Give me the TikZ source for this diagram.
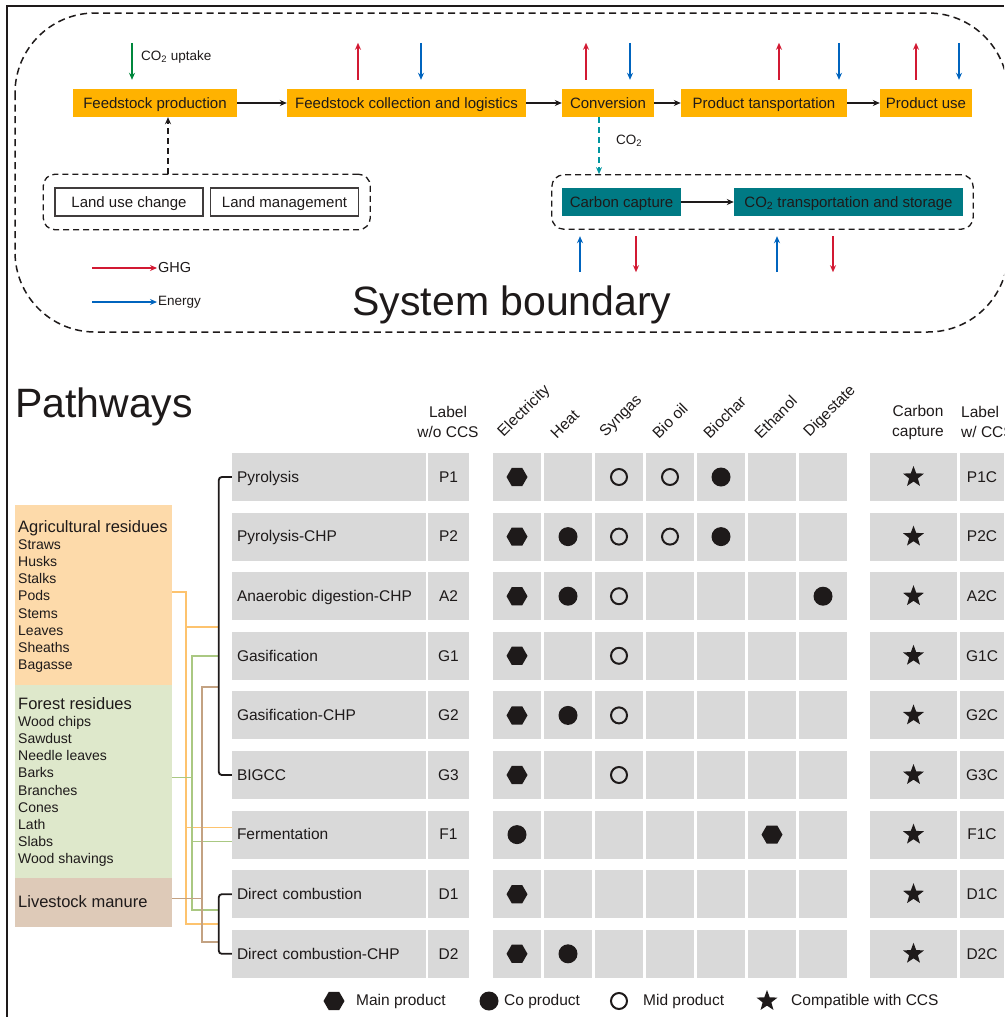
\documentclass[tikz,border=0pt]{standalone}
\usepackage{fontspec}
\setmainfont{Liberation Sans}
\usetikzlibrary{positioning,arrows.meta,shapes.geometric,fit}

\definecolor{procorange}{RGB}{255,178,0}
\definecolor{ccsteal}{RGB}{0,122,132}
\definecolor{ghgred}{RGB}{210,25,50}
\definecolor{energyblue}{RGB}{0,100,190}
\definecolor{uptakegreen}{RGB}{0,135,60}
\definecolor{co2teal}{RGB}{0,150,160}
\definecolor{cellgray}{RGB}{217,217,217}
\definecolor{agrifill}{RGB}{253,218,170}
\definecolor{forestfill}{RGB}{222,232,203}
\definecolor{manurefill}{RGB}{222,202,184}
\definecolor{agriline}{RGB}{253,195,110}
\definecolor{forestline}{RGB}{170,200,130}
\definecolor{manureline}{RGB}{195,162,130}
\definecolor{inkgray}{RGB}{30,26,26}

\begin{document}
\begin{tikzpicture}[x=1pt, y=-1pt,
        every node/.style={text=inkgray},
        proc/.style={fill=procorange, minimum height=28pt, inner sep=0pt, text height=10.7pt, text depth=0.5pt, font=\fontsize{15}{17}\selectfont},
        capbox/.style={fill=ccsteal, minimum height=28pt, inner sep=0pt, text height=10.7pt, text depth=0.5pt, font=\fontsize{15}{17}\selectfont},
        landbox/.style={draw=inkgray!85, line width=1.6pt, fill=white, minimum width=148pt, minimum height=28pt, inner sep=0pt, text height=10.7pt, text depth=0.5pt, font=\fontsize{15}{17}\selectfont},
        grp/.style={draw=inkgray, line width=1.3pt, dash pattern=on 6pt off 4pt, rounded corners=12pt, inner xsep=10pt, inner ysep=13pt},
        flow/.style={draw=inkgray, line width=1.2pt, -{Stealth[length=7pt,width=6pt]}},
        dashflow/.style={flow, dash pattern=on 6pt off 4pt},
        co2flow/.style={flow, draw=co2teal, dash pattern=on 6pt off 4pt},
        ghg/.style={draw=ghgred, line width=1.6pt, -{Stealth[length=7pt,width=6pt]}},
        energy/.style={ghg, draw=energyblue},
        uptake/.style={ghg, draw=uptakegreen},
        smalltxt/.style={inner sep=1pt, font=\fontsize{13.5}{16}\selectfont},
        cellbase/.style={fill=cellgray, minimum height=48pt, inner sep=0pt, text height=11pt, text depth=0.5pt, font=\fontsize{15.5}{18}\selectfont},
        namecell/.style={cellbase, text width=184pt, inner xsep=5pt, align=left},
        labcell/.style={cellbase, minimum width=41pt},
        prodcell/.style={cellbase, minimum width=48pt},
        cccell/.style={cellbase, minimum width=87pt},
        headtxt/.style={align=center, inner sep=0pt, font=\fontsize{15.5}{20}\selectfont},
        rothead/.style={anchor=south west, rotate=45, inner sep=0pt, font=\fontsize{15.5}{17}\selectfont},
        mainsym/.style={regular polygon, regular polygon sides=6, fill=inkgray, minimum size=21pt, inner sep=0pt},
        cosym/.style={circle, fill=inkgray, minimum size=19pt, inner sep=0pt},
        midsym/.style={circle, draw=inkgray, line width=2pt, minimum size=16pt, inner sep=0pt},
        ccssym/.style={star, star points=5, star point ratio=2.4, fill=inkgray, minimum size=22pt, inner sep=0pt},
        srcbox/.style={minimum width=157pt, inner sep=0pt},
        srctxt/.style={align=left, inner sep=0pt, font=\fontsize{14}{17.2}\selectfont},
        agline/.style={draw=agriline, line width=1.6pt},
        foline/.style={draw=forestline, line width=1.6pt},
        lmline/.style={draw=manureline, line width=1.6pt},
        brk/.style={draw=inkgray, line width=1.8pt, rounded corners=3pt},
        legtxt/.style={inner sep=0pt, font=\fontsize{15.5}{18}\selectfont}
    ]
        \useasboundingbox (0,0) rectangle (1004,1017);
        \clip (0,0) rectangle (1004,1017);
        \draw[inkgray, line width=2pt] (7,1017) -- (7,6) -- (1004,6);

        % system boundary
        \draw[inkgray, line width=1.5pt, dash pattern=on 7pt off 4.5pt, rounded corners=80pt] (15,13) rectangle (1008,332);
        \node[anchor=base, inner sep=0pt, font=\fontsize{41}{45}\selectfont] (sysb) at (512,315) {System boundary};

        \node[proc, minimum width=164pt] (fsp) at (155,103) {Feedstock production};
        \node[proc, minimum width=239pt] (fcl) at (406.5,103) {Feedstock collection and logistics};
        \node[proc, minimum width=92pt] (conv) at (608,103) {Conversion};
        \node[proc, minimum width=166pt] (ptr) at (764,103) {Product tansportation};
        \node[proc, minimum width=92pt] (puse) at (926,103) {Product use};

        \draw[flow] (fsp) -- (fcl);
        \draw[flow] (fcl) -- (conv);
        \draw[flow] (conv) -- (ptr);
        \draw[flow] (ptr) -- (puse);

        \node[landbox] (luc) at (129,202) {Land use change};
        \node[landbox] (lmg) at (284.5,202) {Land management};
        \node[grp, inner xsep=11pt, fit=(luc)(lmg)] (landgrp) {};
        \draw[dashflow] ([xshift=13pt]fsp.south |- landgrp.north) -- ([xshift=13pt]fsp.south);

        \node[capbox, minimum width=119pt] (capt) at (621.5,202) {Carbon capture};
        \node[capbox, minimum width=229pt] (co2ts) at (848.5,202) {CO\textsubscript{2} transportation and storage};
        \node[grp, fit=(capt)(co2ts)] (ccsgrp) {};
        \draw[flow] (capt) -- (co2ts);
        \draw[co2flow] ([xshift=-9pt]conv.south) -- ([xshift=-9pt]conv.south |- ccsgrp.north);
        \node[smalltxt] (co2lbl) at (629,141) {CO\textsubscript{2}};

        % emissions and energy
        \draw[uptake] ([xshift=-23pt, yshift=46pt]fsp.north) -- ++(0,37);
        \node[smalltxt, anchor=west] (uptlbl) at (140,57) {CO\textsubscript{2} uptake};
        \foreach \nd/\rx/\bx in {fcl/-48.5/14.5, conv/-22/22, ptr/15/75, puse/-10/33} {
            \draw[ghg] ([xshift=\rx pt, yshift=9pt]\nd.north) -- ++(0,-37);
            \draw[energy] ([xshift=\bx pt, yshift=46pt]\nd.north) -- ++(0,37);
        }
        \foreach \nd/\bx/\rx in {capt/-41.5/14.5, co2ts/-71.5/-15.5} {
            \draw[energy] ([xshift=\bx pt, yshift=-56pt]\nd.south) -- ++(0,-36);
            \draw[ghg] ([xshift=\rx pt, yshift=-20pt]\nd.south) -- ++(0,36);
        }

        \coordinate (ghgst) at (92,268);
        \node[smalltxt, anchor=west, font=\fontsize{14.5}{16}\selectfont] (ghglbl) at (157,268) {GHG};
        \draw[ghg] (ghgst) -- (ghglbl.west);
        \coordinate (enst) at (92,302);
        \node[smalltxt, anchor=west] (enlbl) at (157,302) {Energy};
        \draw[energy] (enst) -- (enlbl.west);

        % pathways
        \node[anchor=base west, inner sep=0pt, font=\fontsize{41}{45}\selectfont] (pathw) at (15,417) {Pathways};
        \node[headtxt] (hdlab) at (448,422) {Label\\w/o CCS};
        \node[headtxt] (hdcc) at (918,422) {Carbon\\capture};
        \node[headtxt, align=left, anchor=west] (hdlabc) at (961,422) {Label\\w/ CCS};
        \foreach \k/\hd in {0/Electricity,1/Heat,2/Syngas,3/Bio oil,4/Biochar,5/Ethanol,6/Digestate}
            \node[rothead] (hd\k) at (506+51*\k,440) {\hd};

        \foreach \i/\pname/\plab/\pclab in {1/Pyrolysis/P1/P1C, 2/Pyrolysis-CHP/P2/P2C,
                3/Anaerobic digestion-CHP/A2/A2C, 4/Gasification/G1/G1C, 5/Gasification-CHP/G2/G2C,
                6/BIGCC/G3/G3C, 7/Fermentation/F1/F1C, 8/Direct combustion/D1/D1C,
                9/Direct combustion-CHP/D2/D2C} {
            \pgfmathsetmacro{\cy}{477+59.6*(\i-1)}
            \node[namecell] (pw\i) at (329,\cy) {\pname};
            \node[labcell] (lb\i) at (448.5,\cy) {\plab};
            \foreach \k in {0,...,6}
                \node[prodcell] (pc\i\k) at (517+51*\k,\cy) {};
            \node[cccell] (ccs\i) at (913.5,\cy) {};
            \node[labcell, minimum width=44pt] (lc\i) at (982,\cy) {\pclab};
        }

        \foreach \i/\k in {1/0,2/0,3/0,4/0,5/0,6/0,7/5,8/0,9/0}
            \node[mainsym] (mn\i\k) at (pc\i\k) {};
        \foreach \i/\k in {1/4,2/1,2/4,3/1,3/6,5/1,7/0,9/1}
            \node[cosym] (co\i\k) at (pc\i\k) {};
        \foreach \i/\k in {1/2,1/3,2/2,2/3,3/2,4/2,5/2,6/2}
            \node[midsym] (md\i\k) at (pc\i\k) {};
        \foreach \i in {1,...,9}
            \node[ccssym] (st\i) at (ccs\i) {};

        % feedstocks
        \node[srcbox, fill=agrifill, minimum height=180pt] (agri) at (93.5,595) {};
        \node[srcbox, fill=forestfill, minimum height=193pt] (forest) at (93.5,781.5) {};
        \node[srcbox, fill=manurefill, minimum height=49pt] (manure) at (93.5,902.5) {};
        \node[srctxt, anchor=north west] (agritxt) at (18,520) {{\fontsize{16.5}{17}\selectfont Agricultural residues}\\Straws\\Husks\\Stalks\\Pods\\Stems\\Leaves\\Sheaths\\Bagasse};
        \node[srctxt, anchor=north west] (foresttxt) at (18,697) {{\fontsize{16.5}{17}\selectfont Forest residues}\\Wood chips\\Sawdust\\Needle leaves\\Barks\\Branches\\Cones\\Lath\\Slabs\\Wood shavings};
        \node[srctxt, anchor=west, font=\fontsize{16.5}{18}\selectfont] (manuretxt) at (18,902) {Livestock manure};

        \coordinate (b1ag) at (219,627);
        \coordinate (b1fo) at (219,656);
        \coordinate (b1lm) at (219,687);
        \coordinate (b2fo) at (219,910);
        \coordinate (b2ag) at (219,924);
        \coordinate (b2lm) at (219,942);
        \draw[agline] ([yshift=3pt]agri.east) -- ++(14,0) coordinate (agtrunk) |- (b1ag);
        \draw[agline] (agtrunk) |- ([yshift=7pt]pw7.west);
        \draw[agline] (agtrunk) |- (b2ag);
        \draw[foline] ([yshift=4pt]forest.east) -- ++(20,0) coordinate (fotrunk) |- (b1fo);
        \draw[foline] (fotrunk) |- ([yshift=-7pt]pw7.west);
        \draw[foline] (fotrunk) |- (b2fo);
        \draw[lmline] ([yshift=4pt]manure.east) -- ++(30,0) coordinate (lmtrunk) |- (b1lm);
        \draw[lmline] (lmtrunk) |- (b2lm);

        \draw[brk] (pw1.west) -- ++(-13,0) |- (pw6.west);
        \draw[brk] (pw8.west) -- ++(-13,0) |- (pw9.west);

        % legend
        \node[mainsym] (lgmain) at (334,1001) {};
        \node[legtxt, anchor=west] (lgmaintxt) at (356,1001) {Main product};
        \node[cosym] (lgco) at (489,1001) {};
        \node[legtxt, anchor=west] (lgcotxt) at (504,1001) {Co product};
        \node[midsym] (lgmid) at (619,1001) {};
        \node[legtxt, anchor=west] (lgmidtxt) at (643,1001) {Mid product};
        \node[ccssym] (lgstar) at (767,1001) {};
        \node[legtxt, anchor=west] (lgstartxt) at (791,1001) {Compatible with CCS};
    \end{tikzpicture}
\end{document}
